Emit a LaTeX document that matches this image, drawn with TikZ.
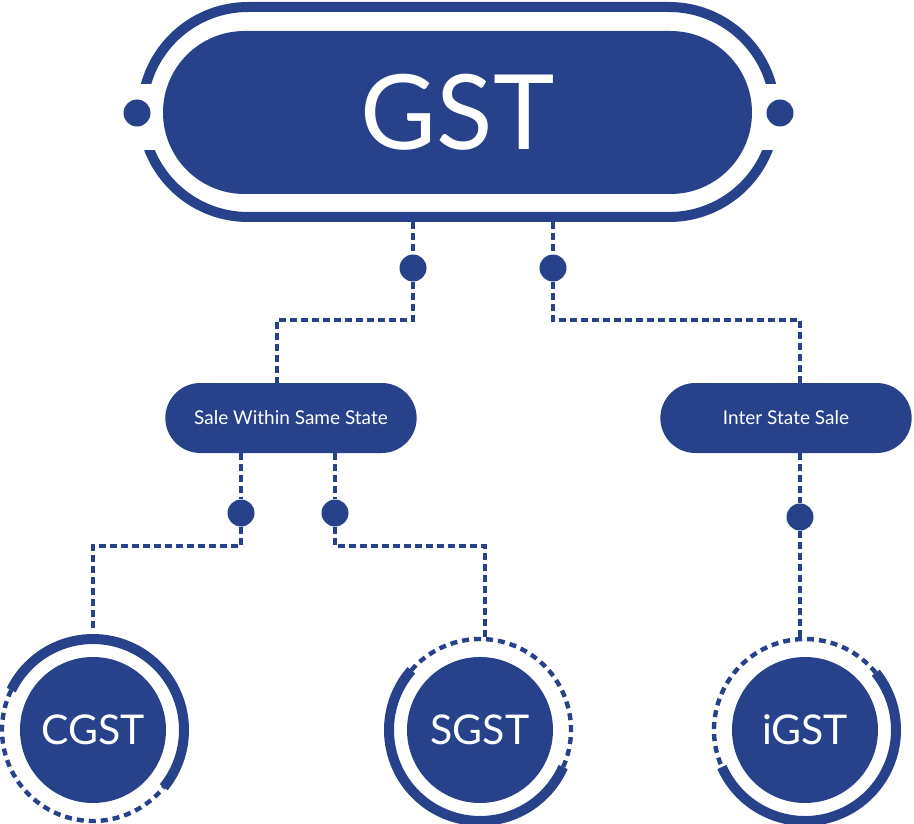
\documentclass[tikz,border=0pt]{standalone}
\usepackage{fontspec}
\setmainfont{Lato}
\usetikzlibrary{shapes.misc,calc}
\begin{document}
\begin{tikzpicture}[x=1pt,y=-1pt,
  conn/.style={draw=gstb,line width=3.4pt,dash pattern=on 7pt off 4pt},
  ring/.style={draw=gstb,line width=10pt},
  dring/.style={draw=gstb,line width=4.4pt,dash pattern=on 7pt off 5pt},
  dot/.style={circle,fill=gstb,minimum size=27pt,inner sep=0pt},
  pill/.style={rounded rectangle,fill=gstb,text=white,minimum width=258pt,minimum height=70pt,font=\fontsize{19}{21}\selectfont},
  circ/.style={circle,fill=gstb,text=white,minimum size=146pt,inner sep=0pt,font=\fontsize{41}{44}\selectfont}]
\definecolor{gstb}{HTML}{27428A}
\useasboundingbox (0,0) rectangle (914,824);
% GST
\draw[ring,rounded corners=106pt] (142,7) rectangle (775,217);
\fill[white] (120,84) rectangle (160,150);
\fill[white] (756,84) rectangle (796,150);
\node[rounded rectangle,fill=gstb,text=white,minimum width=589pt,minimum height=163pt,inner sep=0pt,font=\fontsize{104}{104}\selectfont] (gst) at (457.5,112.5) {GST};
\node[dot] (dl) at (137,113) {};
\node[dot] (dr) at (780,113) {};
% level 2
\node[pill] (sale) at (291,418) {Sale Within Same State};
\node[pill] (inter) at (786,418) {Inter State Sale};
\node[dot] (d1) at (413,268) {};
\node[dot] (d2) at (553,268) {};
\coordinate (t1) at (413,222); \coordinate (t2) at (553,222);
\coordinate (sn) at (277,383); \coordinate (in) at (800,383);
\draw[conn] (t1) -- (d1) -- (413,320) -| (sn);
\draw[conn] (t2) -- (d2) -- (553,320) -| (in);
% circles
\node[circ] (c) at (93,730) {CGST};
\node[circ] (s) at (480,730) {SGST};
\node[circ] (i) at (805,730) {iGST};
\draw[ring] ($(c)+(39:91)$) arc[start angle=39,end angle=-154,radius=91];
\draw[dring] ($(c)+(-154:91)$) arc[start angle=-154,end angle=-321,radius=91];
\draw[ring] ($(s)+(-139:91)$) arc[start angle=-139,end angle=-336,radius=91];
\draw[dring] ($(s)+(24:91)$) arc[start angle=24,end angle=-139,radius=91];
\draw[ring] ($(i)+(-204:91)$) arc[start angle=-204,end angle=-399,radius=91];
\draw[dring] ($(i)+(-39:91)$) arc[start angle=-39,end angle=-204,radius=91];
% level 3 connectors
\coordinate (s1) at (241,453); \coordinate (s2) at (335,453); \coordinate (i1) at (800,453);
\coordinate (ct) at (93,630); \coordinate (st) at (485,637); \coordinate (it) at (800,637);
\node[dot] (d3) at (241,513) {};
\node[dot] (d4) at (335,513) {};
\node[dot] (d5) at (800,517) {};
\draw[conn] (s1) -- (d3) -- (241,546) -| (ct);
\draw[conn] (s2) -- (d4) -- (335,546) -| (st);
\draw[conn] (i1) -- (d5) -- (it);
\end{tikzpicture}
\end{document}
